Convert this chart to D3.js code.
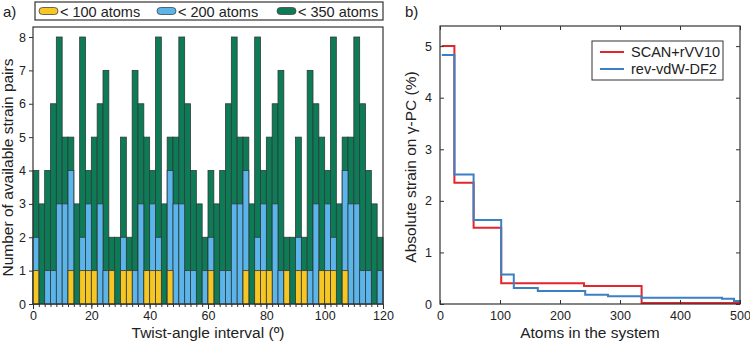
<!DOCTYPE html>
<html><head><meta charset="utf-8">
<script src="https://cdn.jsdelivr.net/npm/d3@7"></script>
<style>body{margin:0;background:#fff}svg{display:block;font-family:"Liberation Sans",Arial,sans-serif}</style>
</head><body><svg id="c" width="750" height="342"></svg>
<script>
// Panel a) cumulative counts per 2° twist-angle interval (60 bars, 0..120°)
const binStarts = d3.range(0, 120, 2);
const lt350 = [4,3,4,6,8,5,5,3,8,4,5,6,7,2,2,5,2,7,6,5,4,8,3,5,5,8,6,4,3,2,
               4,3,4,6,8,5,5,3,8,4,5,6,7,2,2,5,2,7,6,5,4,8,3,5,5,8,6,4,3,2];
const lt200 = [2,0,1,1,3,3,4,0,2,3,1,3,1,1,0,2,1,1,3,1,3,2,0,4,3,3,1,1,0,1,
               2,0,1,1,3,3,4,0,2,3,1,3,1,1,0,2,1,1,3,1,3,2,0,4,3,3,1,1,0,1];
const lt100 = [1,0,0,0,0,0,1,0,1,1,1,0,0,1,0,1,1,0,0,1,1,1,0,1,0,0,0,0,0,0,
               1,0,0,0,0,0,1,0,1,1,1,0,0,1,0,1,1,0,0,1,1,1,0,1,0,0,0,0,0,0];
const seriesA = [
  {name:"< 100 atoms", color:"#f6c622", values:lt100},
  {name:"< 200 atoms", color:"#5bb5ea", values:lt200},
  {name:"< 350 atoms", color:"#0e7b57", values:lt350}
];
const xTicksA = [0,20,40,60,80,100,120];
const yTicksA = [0,1,2,3,4,5,6,7,8];

// Panel b) step curves: absolute strain vs atoms
const scanX = [3,24,56,102,240,336,500];
const scanY = [5.0,2.35,1.48,0.40,0.35,0.02,0.02];
const revX  = [3,24,56,102,123,163,242,280,336,470,490,500];
const revY  = [4.83,2.51,1.63,0.57,0.31,0.25,0.18,0.15,0.12,0.10,0.06,0.05];
const seriesB = [
  {name:"SCAN+rVV10", color:"#e3262b", x:scanX, y:scanY},
  {name:"rev-vdW-DF2", color:"#3b80c3", x:revX, y:revY}
];
const xTicksB = [0,100,200,300,400,500];
const yTicksB = [0,1,2,3,4,5];

const svg = d3.select("#c");
const ink = "#333";
const tickFont = 12.5, titleFont = 15.5;
const styleAx = g=>{g.select(".domain").remove();g.selectAll("text").attr("font-size",tickFont).attr("fill","#222").attr("font-family","Liberation Sans, Arial");g.selectAll("line").attr("stroke",ink);};

// ---------- Panel a ----------
const A = {l:33, r:383, t:27, b:304};
const xa = d3.scaleLinear().domain([0,120]).range([A.l, A.r]);
const ya = d3.scaleLinear().domain([0,8.3]).range([A.b, A.t]);
const ga = svg.append("g");
[2,1,0].forEach(si => {
  const s = seriesA[si];
  ga.append("g").selectAll("rect").data(binStarts).join("rect")
    .attr("x", d => xa(d)).attr("width", d => xa(d+2)-xa(d))
    .attr("y", (d,i) => ya(s.values[i])).attr("height", (d,i) => ya(0)-ya(s.values[i]))
    .attr("fill", s.color).attr("stroke", "#2f3b3a").attr("stroke-width", 0.8)
    .attr("display", (d,i) => s.values[i] > 0 ? null : "none");
});
ga.append("rect").attr("x",A.l).attr("y",A.t).attr("width",A.r-A.l).attr("height",A.b-A.t)
  .attr("fill","none").attr("stroke",ink).attr("stroke-width",1.2);
ga.append("g").attr("transform",`translate(${A.l},0)`)
  .call(d3.axisLeft(ya).tickValues(yTicksA).tickSize(4).tickPadding(3).tickFormat(d3.format("d"))).call(styleAx);
ga.append("g").attr("transform",`translate(0,${A.b})`)
  .call(d3.axisBottom(xa).tickValues(d3.range(0,121,2)).tickSize(3).tickFormat("")).call(styleAx);
ga.append("g").attr("transform",`translate(0,${A.b})`)
  .call(d3.axisBottom(xa).tickValues(xTicksA).tickSize(5).tickPadding(2).tickFormat(d3.format("d"))).call(styleAx);
ga.append("text").attr("x",(A.l+A.r)/2).attr("y",338).attr("text-anchor","middle").attr("font-size",titleFont).attr("fill","#222").text("Twist-angle interval (º)");
ga.append("text").attr("transform",`translate(13,${(A.t+A.b)/2+2}) rotate(-90)`).attr("text-anchor","middle").attr("font-size",titleFont).attr("fill","#222").text("Number of available strain pairs");
svg.append("text").attr("x",3).attr("y",17).attr("font-size",15).attr("fill","#222").text("a)");
// legend a
const la = svg.append("g");
la.append("rect").attr("x",35).attr("y",2).attr("width",348).attr("height",18).attr("fill","#fff").attr("stroke",ink).attr("stroke-width",1.2);
const legX = [39,157,277];
seriesA.forEach((s,i)=>{
  la.append("rect").attr("x",legX[i]).attr("y",7.5).attr("width",19).attr("height",7).attr("rx",3.5)
    .attr("fill",s.color).attr("stroke","#444").attr("stroke-width",0.8);
  la.append("text").attr("x",legX[i]+21).attr("y",16.5).attr("font-size",14.5).attr("fill","#222").text(s.name);
});

// ---------- Panel b ----------
const B = {l:440, r:740, t:26, b:304};
const xb = d3.scaleLinear().domain([0,500]).range([B.l, B.r]);
const yb = d3.scaleLinear().domain([0,5.39]).range([B.b, B.t]);
const gb = svg.append("g");
const line = d3.line().x(d=>xb(d[0])).y(d=>yb(d[1])).curve(d3.curveStepAfter);
seriesB.forEach(s=>{
  gb.append("path").datum(s.x.map((x,i)=>[x,s.y[i]])).attr("d",line)
    .attr("fill","none").attr("stroke",s.color).attr("stroke-width",2);
});
gb.append("rect").attr("x",B.l).attr("y",B.t).attr("width",B.r-B.l).attr("height",B.b-B.t)
  .attr("fill","none").attr("stroke",ink).attr("stroke-width",1.2);
gb.append("g").attr("transform",`translate(${B.l},0)`).call(d3.axisLeft(yb).tickValues(yTicksB).tickSizeInner(-4).tickSizeOuter(0).tickPadding(8).tickFormat(d3.format("d"))).call(styleAx);
gb.append("g").attr("transform",`translate(${B.r},0)`).call(d3.axisRight(yb).tickValues(yTicksB).tickSizeInner(-4).tickSizeOuter(0).tickFormat("")).call(styleAx);
gb.append("g").attr("transform",`translate(0,${B.b})`).call(d3.axisBottom(xb).tickValues(xTicksB).tickSizeInner(-4).tickSizeOuter(0).tickPadding(7).tickFormat(d3.format("d"))).call(styleAx);
gb.append("g").attr("transform",`translate(0,${B.t})`).call(d3.axisTop(xb).tickValues(xTicksB).tickSizeInner(-4).tickSizeOuter(0).tickFormat("")).call(styleAx);
gb.append("text").attr("x",(B.l+B.r)/2).attr("y",338).attr("text-anchor","middle").attr("font-size",titleFont).attr("fill","#222").text("Atoms in the system");
gb.append("text").attr("transform",`translate(416,${(B.t+B.b)/2+2}) rotate(-90)`).attr("text-anchor","middle").attr("font-size",titleFont).attr("fill","#222").text("Absolute strain on γ-PC (%)");
svg.append("text").attr("x",405).attr("y",17).attr("font-size",15).attr("fill","#222").text("b)");
// legend b
const lb = svg.append("g");
lb.append("rect").attr("x",592).attr("y",41).attr("width",131).attr("height",39).attr("fill","#fff").attr("stroke",ink).attr("stroke-width",1);
seriesB.forEach((s,i)=>{
  const y = 52 + i*17;
  lb.append("line").attr("x1",600).attr("x2",624).attr("y1",y).attr("y2",y).attr("stroke",s.color).attr("stroke-width",2);
  lb.append("text").attr("x",631).attr("y",y+5).attr("font-size",14.5).attr("fill","#222").text(s.name);
});
</script></body></html>
